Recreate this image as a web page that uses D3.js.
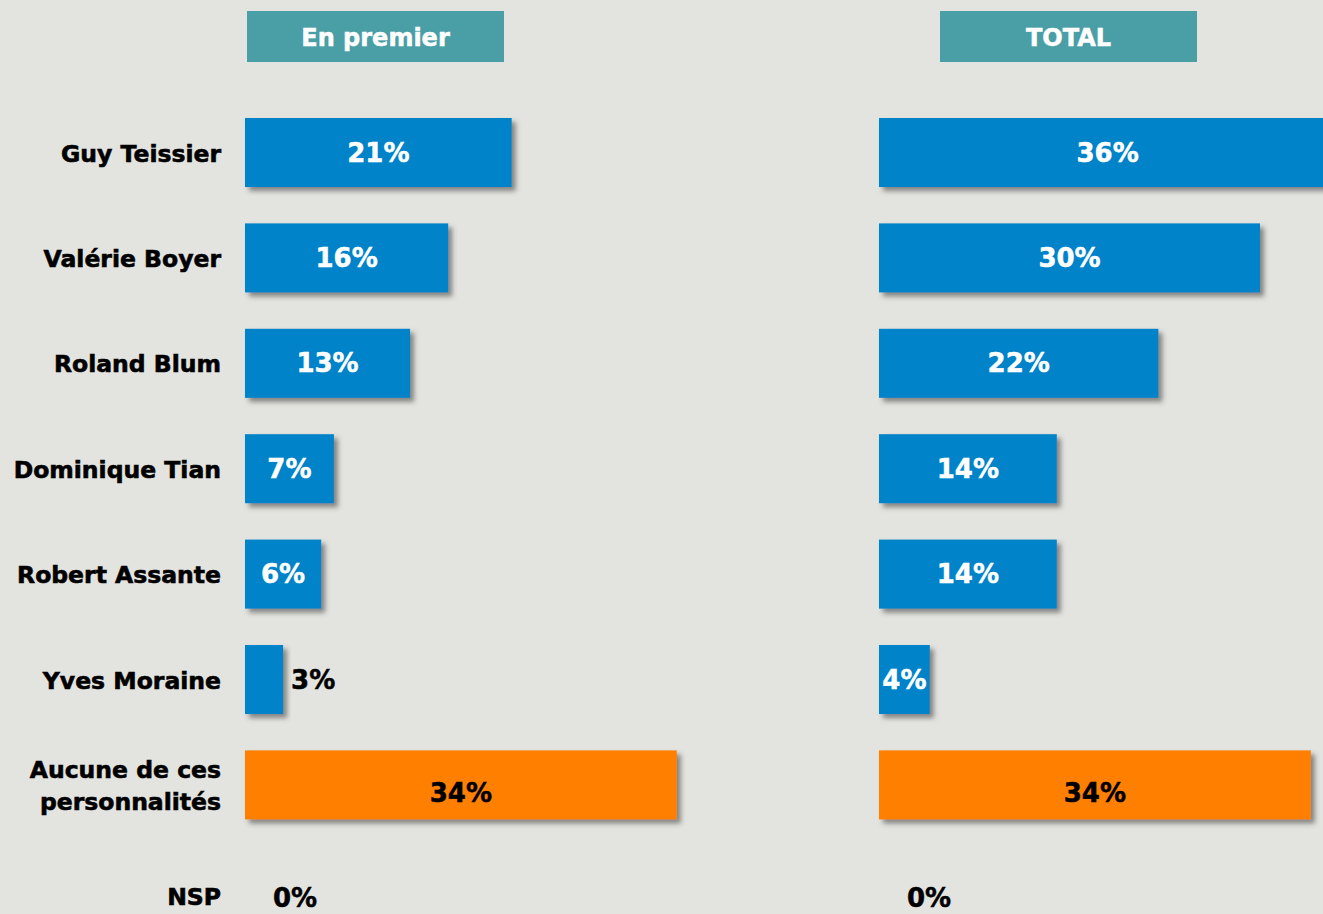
<!DOCTYPE html>
<html>
<head>
<meta charset="utf-8">
<script src="https://cdn.jsdelivr.net/npm/d3@7"></script>
<style>
  body { margin: 0; background: #e3e3df; }
  svg { display: block; font-family: "DejaVu Sans", Verdana, sans-serif; font-weight: bold; }
</style>
</head>
<body>
<div class="chart-wrapper"></div>
<script>
// categories (rows, top to bottom)
var categories = ["Guy Teissier", "Valérie Boyer", "Roland Blum", "Dominique Tian",
  "Robert Assante", "Yves Moraine", "Aucune de ces personnalités", "NSP"];
// panel titles
var panels = ["En premier", "TOTAL"];
// values, in %
var enPremier = [21, 16, 13, 7, 6, 3, 34, 0];
var total = [36, 30, 22, 14, 14, 4, 34, 0];

var width = 1323, height = 914;
var blue = "#0083c9", orange = "#ff7f00";

var svg = d3.select(".chart-wrapper").append("svg")
  .attr("width", width)
  .attr("height", height);

// drop shadow for the bars
var defs = svg.append("defs");
defs.append("filter")
  .attr("id", "shadow")
  .attr("x", "-10%").attr("y", "-10%")
  .attr("width", "130%").attr("height", "140%")
  .append("feDropShadow")
  .attr("dx", 4).attr("dy", 4)
  .attr("stdDeviation", 2.5)
  .attr("flood-color", "#444")
  .attr("flood-opacity", 0.6);

// rows
var y = d3.scaleBand()
  .domain(categories)
  .range([118, 118 + 105.4 * (categories.length - 0.345)])
  .paddingInner(0.345)
  .paddingOuter(0);

// shared value scale (px per %)
var x = d3.scaleLinear().domain([0, 10]).range([0, 127]);

// category labels
var lab = svg.append("g").attr("class", "categories")
  .attr("fill", "#000").attr("stroke", "#000").attr("stroke-width", 0.6);
categories.forEach(function(c) {
  var cy = y(c) + y.bandwidth() / 2;
  var t = lab.append("text")
    .attr("x", 221)
    .attr("text-anchor", "end")
    .attr("font-size", 23.5);
  if (c === "Aucune de ces personnalités") {
    t.append("tspan").attr("x", 221).attr("y", cy - 7).text("Aucune de ces");
    t.append("tspan").attr("x", 221).attr("y", cy + 25).text("personnalités");
  } else if (c === "NSP") {
    t.attr("y", cy + 15).text(c);
  } else {
    t.attr("y", cy + 9).text(c);
  }
});

function drawPanel(x0, titleX, title, values) {
  var g = svg.append("g")
    .attr("transform", "translate(" + x0 + ",0)");

  // title box
  g.append("rect")
    .attr("x", titleX).attr("y", 11)
    .attr("width", 257).attr("height", 51)
    .attr("fill", "#4a9ea5");
  g.append("text")
    .attr("x", titleX + 257 / 2).attr("y", 46)
    .attr("text-anchor", "middle")
    .attr("font-size", 24)
    .attr("fill", "#fff")
    .attr("stroke", "#fff").attr("stroke-width", 0.5)
    .text(title);

  var rows = categories.map(function(c, i) { return { cat: c, value: values[i] }; });

  g.selectAll("rect.bar")
    .data(rows.filter(function(d) { return d.value > 0; }))
    .enter().append("rect")
    .attr("class", "bar")
    .attr("x", 0)
    .attr("y", function(d) { return y(d.cat); })
    .attr("width", function(d) { return x(d.value); })
    .attr("height", y.bandwidth())
    .attr("fill", function(d) { return d.cat === "Aucune de ces personnalités" ? orange : blue; })
    .attr("filter", "url(#shadow)");

  function outside(d) { return x(d.value) < 45; }
  function dark(d) { return outside(d) || d.cat === "Aucune de ces personnalités"; }

  g.selectAll("text.value")
    .data(rows)
    .enter().append("text")
    .attr("class", "value")
    .attr("font-size", 26)
    .attr("x", function(d) {
      if (d.value === 0) return 28;
      return outside(d) ? x(d.value) + 8 : x(d.value) / 2;
    })
    .attr("y", function(d) {
      var cy = y(d.cat) + y.bandwidth() / 2 + 9;
      if (d.cat === "Aucune de ces personnalités") cy += 8;
      if (d.value === 0) cy += 8;
      return cy;
    })
    .attr("text-anchor", function(d) { return outside(d) ? "start" : "middle"; })
    .attr("fill", function(d) { return dark(d) ? "#000" : "#fff"; })
    .attr("stroke", function(d) { return dark(d) ? "#000" : "#fff"; })
    .attr("stroke-width", 0.5)
    .text(function(d) { return d.value + "%"; });
}

drawPanel(245, 2, panels[0], enPremier);
drawPanel(879, 61, panels[1], total);
</script>
</body>
</html>
